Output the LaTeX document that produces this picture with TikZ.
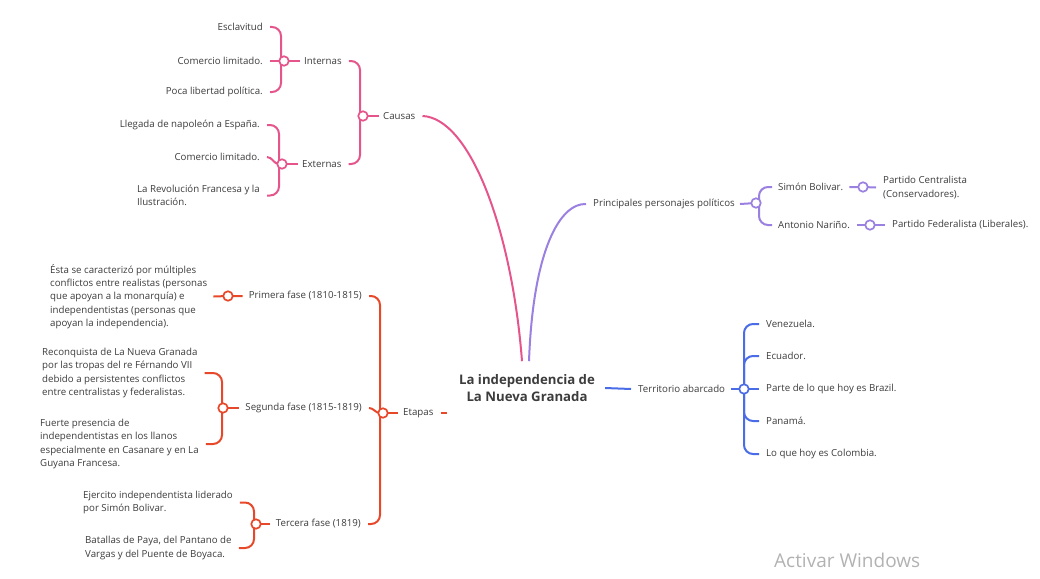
\documentclass[tikz,border=0pt]{standalone}
\usepackage{fontspec}
\setmainfont{Open Sans}
\definecolor{tc}{HTML}{3C3C3C}
\definecolor{pk}{HTML}{E5558C}
\definecolor{pu}{HTML}{9A80E0}
\definecolor{rd}{HTML}{E8482A}
\definecolor{bl}{HTML}{4A6CE6}
\pgfdeclarelayer{bg}
\pgfsetlayers{bg,main}
\tikzset{
 txt/.style={inner sep=1pt, text=tc, font=\fontsize{9.7}{13.3}\selectfont},
 ml/.style={txt, align=left},
 title/.style={inner sep=1pt, text=tc, align=center, font=\fontsize{13.2}{17}\selectfont\bfseries},
 circ/.style={circle, draw, fill=white, line width=1.7pt, minimum size=9.5pt, inner sep=0pt},
 ln/.style={line width=2pt},
 br/.style={line width=2pt, rounded corners=9pt},
}
\begin{document}
\begin{tikzpicture}[x=1pt,y=-1pt]
\useasboundingbox (0,0) rectangle (1040,578);
% root
\node[title] (root) at (527,388) {La independencia de\\La Nueva Granada};
% causas
\node[txt,anchor=west] (causas) at (382,116) {Causas};
\node[circ,draw=pk] (cc) at (363,116) {};
\node[txt,anchor=west] (int) at (303,61) {Internas};
\node[circ,draw=pk] (ci) at (284,61) {};
\node[txt,anchor=west] (ext) at (301,164) {Externas};
\node[circ,draw=pk] (ce) at (282,164) {};
\node[txt,anchor=east] (esc) at (264,27) {Esclavitud};
\node[txt,anchor=east] (com1) at (264,61) {Comercio limitado.};
\node[txt,anchor=east] (poca) at (264,92) {Poca libertad política.};
\node[txt,anchor=east] (lleg) at (261,125) {Llegada de napoleón a España.};
\node[txt,anchor=east] (com2) at (261,157) {Comercio limitado.};
\node[ml,anchor=east] (rev) at (261,195.5) {La Revolución Francesa y la\\Ilustración.};
% personajes
\node[txt,anchor=west] (pers) at (592,204) {Principales personajes políticos};
\node[circ,draw=pu] (cp) at (756,203) {};
\node[txt,anchor=west] (sim) at (777,187) {Simón Bolivar.};
\node[txt,anchor=west] (ant) at (777,225) {Antonio Nariño.};
\node[circ,draw=pu] (cs) at (863,187) {};
\node[circ,draw=pu] (ca) at (870,225) {};
\node[ml,anchor=west] (pc) at (882,187.5) {Partido Centralista\\(Conservadores).};
\node[txt,anchor=west] (pf) at (891,225) {Partido Federalista (Liberales).};
% territorio
\node[txt,anchor=west] (terr) at (637,389) {Territorio abarcado};
\node[circ,draw=bl] (ct) at (744,389) {};
\node[txt,anchor=west] (ven) at (765,324) {Venezuela.};
\node[txt,anchor=west] (ecu) at (765,356) {Ecuador.};
\node[txt,anchor=west] (bra) at (765,389) {Parte de lo que hoy es Brazil.};
\node[txt,anchor=west] (pan) at (765,421) {Panamá.};
\node[txt,anchor=west] (col) at (765,454) {Lo que hoy es Colombia.};
% etapas
\node[txt,anchor=west] (eta) at (402,413) {Etapas};
\node[circ,draw=rd] (cet) at (383,413) {};
\node[txt,anchor=east] (pri) at (363,296) {Primera fase (1810-1815)};
\node[txt,anchor=east] (seg) at (363,408) {Segunda fase (1815-1819)};
\node[txt,anchor=east] (ter) at (362,524) {Tercera fase (1819)};
\node[circ,draw=rd] (cpr) at (228,296) {};
\node[circ,draw=rd] (cseg) at (223,408) {};
\node[circ,draw=rd] (cter) at (256,524) {};
\node[ml,anchor=west] (d1) at (49,296.5) {Ésta se caracterizó por múltiples\\conflictos entre realistas (personas\\que apoyan a la monarquía) e\\independentistas (personas que\\apoyan la independencia).};
\node[ml,anchor=west] (d2) at (41,373) {Reconquista de La Nueva Granada\\por las tropas del re Férnando VII\\debido a persistentes conflictos\\entre centralistas y federalistas.};
\node[ml,anchor=west] (d3) at (39,444) {Fuerte presencia de\\independentistas en los llanos\\especialmente en Casanare y en La\\Guyana Francesa.};
\node[ml,anchor=west] (d4) at (82,502.5) {Ejercito independentista liderado\\por Simón Bolivar.};
\node[ml,anchor=west] (d5) at (84,548) {Batallas de Paya, del Pantano de\\Vargas y del Puente de Boyaca.};
% watermark
\node[anchor=west, text=black!30, font=\fontsize{19}{22}\selectfont, inner sep=0pt] (act) at (774,560) {Activar Windows};

\begin{pgfonlayer}{bg}
% causas
\draw[ln,pk] ([xshift=6]causas.east) .. controls (470,118) and (512,230) .. ([xshift=-5,yshift=12]root.north);
\draw[ln,pk] (cc.center) -- ([xshift=-3]causas.west);
\draw[br,pk] ([xshift=6]int.east) -| ([xshift=-3]cc.center);
\draw[br,pk] ([xshift=6]ext.east) -| ([xshift=-3]cc.center);
\draw[ln,pk] (ci.center) -- ([xshift=-3]int.west);
\draw[br,pk] ([xshift=6]esc.east) -| ([xshift=-3]ci.center);
\draw[ln,pk] ([xshift=6]com1.east) -- (ci.center);
\draw[br,pk] ([xshift=6]poca.east) -| ([xshift=-3]ci.center);
\draw[ln,pk] (ce.center) -- ([xshift=-3]ext.west);
\draw[br,pk] ([xshift=6]lleg.east) -| ([xshift=-3]ce.center);
\draw[ln,pk] ([xshift=6]com2.east) to[out=0,in=180] ([xshift=-3]ce.center);
\draw[br,pk] ([xshift=6]rev.east) -| ([xshift=-3]ce.center);
% personajes
\draw[ln,pu] ([xshift=2,yshift=12]root.north) .. controls (533,250) and (560,203) .. ([xshift=-6]pers.west);
\draw[ln,pu] ([xshift=4]pers.east) -- (cp.center);
\draw[br,pu] ([xshift=-5]sim.west) -| ([xshift=3]cp.center);
\draw[br,pu] ([xshift=-5]ant.west) -| ([xshift=3]cp.center);
\draw[ln,pu] ([xshift=5]sim.east) -- (cs.center) -- ([xshift=-6]pc.west);
\draw[ln,pu] ([xshift=6]ant.east) -- (ca.center) -- ([xshift=-6]pf.west);
% territorio
\draw[ln,bl] ([xshift=9]root.east) -- ([xshift=-6]terr.west);
\draw[ln,bl] ([xshift=5]terr.east) -- (ct.center);
\draw[br,bl] ([xshift=-6]ven.west) -| (ct.center);
\draw[br,bl] ([xshift=-6]ecu.west) -| (ct.center);
\draw[ln,bl] (ct.center) -- ([xshift=-6]bra.west);
\draw[br,bl] ([xshift=-6]pan.west) -| (ct.center);
\draw[br,bl] ([xshift=-6]col.west) -| (ct.center);
% etapas
\draw[ln,rd] ([xshift=6]eta.east) -- ([xshift=12]eta.east);
\draw[ln,rd] (cet.center) -- ([xshift=-4]eta.west);
\draw[br,rd] ([xshift=6]pri.east) -| ([xshift=-3]cet.center);
\draw[br,rd] ([xshift=6]ter.east) -| ([xshift=-3]cet.center);
\draw[ln,rd] ([xshift=6]seg.east) to[out=0,in=180] ([xshift=-3]cet.center);
\draw[ln,rd] ([xshift=5]d1.east) -- (cpr.center) -- ([xshift=-5]pri.west);
\draw[br,rd] ([xshift=6]d2.east) -| ([xshift=-1]cseg.center);
\draw[br,rd] ([xshift=6]d3.east) -| ([xshift=-1]cseg.center);
\draw[ln,rd] (cseg.center) -- ([xshift=-5]seg.west);
\draw[br,rd] ([xshift=6]d4.east) -| ([xshift=-2]cter.center);
\draw[br,rd] ([xshift=6]d5.east) -| ([xshift=-2]cter.center);
\draw[ln,rd] (cter.center) -- ([xshift=-5]ter.west);
\end{pgfonlayer}
\end{tikzpicture}
\end{document}
